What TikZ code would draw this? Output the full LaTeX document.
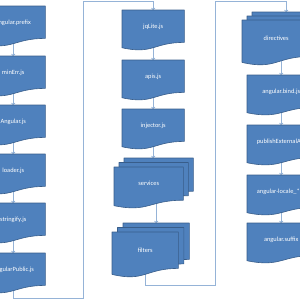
\documentclass[tikz,border=0pt]{standalone}
\usepackage{fontspec}
\setmainfont{Carlito}
\usetikzlibrary{calc,arrows.meta}
\pgfdeclarelayer{connlayer}
\pgfdeclarelayer{shapelayer}
\pgfsetlayers{connlayer,shapelayer,main}
\definecolor{docblue}{HTML}{4F81BD}
\definecolor{docedge}{HTML}{385D8A}
\definecolor{connblue}{HTML}{95B3D7}
\tikzset{
  docnode/.style={rectangle, inner sep=0pt, minimum height=40pt, text=white,
    font=\fontsize{6.4}{7}\selectfont, text height=4.5pt, text depth=8pt, anchor=north west},
  colA/.style={docnode, minimum width=64pt},
  colB/.style={docnode, minimum width=62pt},
  colC/.style={docnode, minimum width=68pt},
  docshape/.style={fill=docblue, draw=docedge, line width=0.6pt, line join=round},
  conn/.style={draw=connblue, line width=0.8pt, -{To[length=2.2pt,width=4pt]}},
}
\newcommand{\docpath}[3]{%
  \begin{pgfonlayer}{shapelayer}
  \path[docshape] let \p1=($(#1.north west)+(#2,#3)$), \p2=($(#1.south east)+(#2,#3)$) in
    (\x1,\y1) -- (\x2,\y1) -- (\x2,{\y1+0.802*(\y2-\y1)})
    .. controls ({0.5*(\x1+\x2)},{\y1+0.802*(\y2-\y1)}) and ({0.5*(\x1+\x2)},{\y1+1.107*(\y2-\y1)}) ..
    (\x1,{\y1+0.934*(\y2-\y1)}) -- cycle;
  \end{pgfonlayer}}
\begin{document}
\begin{tikzpicture}[x=1pt,y=-1pt]
\useasboundingbox (0,0) rectangle (300,300);
% column 1
\node[colA] (prefix) at (-19,6) {angular.prefix};
\node[colA] (minerr) at (-19,56) {minErr.js};
\node[colA] (angular) at (-19,105) {Angular.js};
\node[colA] (loader) at (-19,154) {loader.js};
\node[colA] (stringify) at (-19,203) {stringify.js};
\node[colA] (pub) at (-19,253) {AngularPublic.js};
% column 2
\node[colB] (jq) at (122,10) {jqLite.js};
\node[colB] (apis) at (122,60) {apis.js};
\node[colB] (inj) at (122,109) {injector.js};
\node[docnode, minimum width=69pt, minimum height=41pt] (services) at (114,167) {services};
\node[docnode, minimum width=66pt, minimum height=45pt] (filters) at (112,232) {filters};
% column 3
\node[docnode, minimum width=68pt, minimum height=45pt] (directives) at (242,20) {directives};
\node[colC] (bind) at (247,75) {angular.bind.js};
\node[colC] (publish) at (247,125) {publishExternalApi};
\node[colC] (locale) at (247,175) {angular-locale\_*.js};
\node[colC] (suffix) at (247,223) {angular.suffix};
% shapes
\docpath{prefix}{0}{0}
\docpath{minerr}{0}{0}
\docpath{angular}{0}{0}
\docpath{loader}{0}{0}
\docpath{stringify}{0}{0}
\docpath{pub}{0}{0}
\docpath{jq}{0}{0}
\docpath{apis}{0}{0}
\docpath{inj}{0}{0}
\docpath{bind}{0}{0}
\docpath{publish}{0}{0}
\docpath{locale}{0}{0}
\docpath{suffix}{0}{0}
\docpath{services}{10}{-9}\docpath{services}{5}{-4.5}\docpath{services}{0}{0}
\docpath{filters}{11}{-9}\docpath{filters}{5.5}{-4.5}\docpath{filters}{0}{0}
\docpath{directives}{10}{-8}\docpath{directives}{5}{-4}\docpath{directives}{0}{0}
% coordinates
\coordinate (c1a) at (83,298);
\coordinate (c1b) at (83,1.5);
\coordinate (c2a) at (215,285);
\coordinate (c2b) at (215,1.5);
\coordinate (sback) at ($(services.north)+(4,-9)$);
\coordinate (fback) at ($(filters.north)+(11,-9)$);
\coordinate (dback) at ($(directives.north)+(10,-8)$);
% connectors
\begin{pgfonlayer}{connlayer}
\draw[conn, shorten <=-4pt] (prefix.south) -- (minerr.north);
\draw[conn, shorten <=-4pt] (minerr.south) -- (angular.north);
\draw[conn, shorten <=-4pt] (angular.south) -- (loader.north);
\draw[conn, shorten <=-4pt] (loader.south) -- (stringify.north);
\draw[conn, shorten <=-4pt] (stringify.south) -- (pub.north);
\draw[conn, shorten <=-4pt] (pub.south) -- (pub.south |- c1a) -- (c1a) -- (c1b) -- (c1b -| jq.north) -- (jq.north);
\draw[conn, shorten <=-4pt] (jq.south) -- (apis.north);
\draw[conn, shorten <=-4pt] (apis.south) -- (inj.north);
\draw[conn, shorten <=-4pt] (inj.south) -- (inj.south |- sback);
\draw[conn, shorten <=-4pt] (fback |- services.south) -- (fback);
\draw[conn, shorten <=-4pt] (filters.south) -- (filters.south |- c2a) -- (c2a) -- (c2b) -- (c2b -| dback) -- (dback);
\draw[conn, shorten <=-4pt] (bind.north |- directives.south) -- (bind.north);
\draw[conn, shorten <=-4pt] (bind.south) -- (publish.north);
\draw[conn, shorten <=-4pt] (publish.south) -- (locale.north);
\draw[conn, shorten <=-4pt] (locale.south) -- (suffix.north);
\end{pgfonlayer}
\end{tikzpicture}
\end{document}
